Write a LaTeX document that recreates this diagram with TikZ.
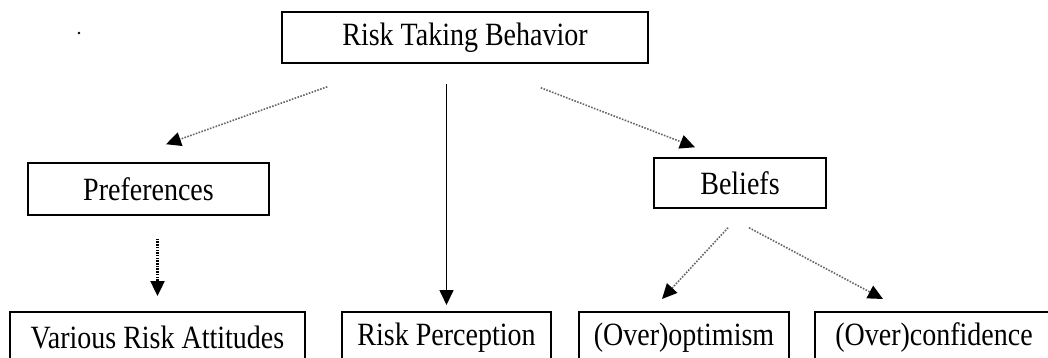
\documentclass[tikz,border=0pt]{standalone}
\usepackage{fontspec}
\setmainfont{Liberation Serif}
\usetikzlibrary{arrows.meta}
\newcommand\lbl[1]{\scalebox{1}[1.16]{#1}}

\begin{document}
\begin{tikzpicture}[x=1pt, y=1pt,
box/.style={draw, line width=1.5pt, inner sep=0pt, minimum height=51pt, font=\fontsize{28}{34}\selectfont},
tip/.style={-{Triangle[length=15pt,width=14pt,color=black]}},
dotline/.style={tip, color=black!60, line width=1.6pt, dash pattern=on 1.6pt off 1.4pt},
thickdot/.style={tip, line width=2.4pt, dash pattern=on 1.5pt off 1.2pt},
solidline/.style={tip, line width=1.6pt}]

\def\picwd{1048}
\def\picht{358}
\def\rowtop{311}	% top of the lower boxes

\useasboundingbox (0,0) rectangle (\picwd,-\picht);
\path[clip] (0,0) rectangle (\picwd,-\picht);

% stray mark
\fill (79,-33) circle (1.3pt);

\node[box, minimum width=366pt] (risk) at (465,-37.5) {\lbl{Risk Taking Behavior}};
\node[box, minimum width=241pt, minimum height=52pt] (pref) at (148.5,-189) {\lbl{Preferences}};
\node[box, minimum width=172pt, minimum height=50pt] (beliefs) at (740,-183) {\lbl{Beliefs}};

\node[box, anchor=north, minimum width=295pt] (attitudes) at (157.5,-\rowtop) {\lbl{Various Risk Attitudes}};
\node[box, anchor=north, minimum width=209pt] (percept) at (446.5,-\rowtop) {\lbl{Risk Perception}};
\node[box, anchor=north, minimum width=210pt] (optim) at (684,-\rowtop) {\lbl{(Over)optimism}};
\node[box, anchor=north, minimum width=238pt] (confid) at (934,-\rowtop) {\lbl{(Over)confidence}};

% top level
\draw[dotline] ([shift={(46,-23)}]risk.south west) -- ([shift={(17.5,18)}]pref.north);
\draw[solidline, shorten <=20pt, shorten >=6pt] (percept.north |- risk.south) -- (percept.north);
\draw[dotline] ([shift={(-108,-24)}]risk.south east) -- ([shift={(-45,10)}]beliefs.north);

% second level
\draw[thickdot, shorten <=23pt, shorten >=15pt] (attitudes.north |- pref.south) -- (attitudes.north);
\draw[dotline] ([shift={(-12,-19)}]beliefs.south) -- ([shift={(-22,12)}]optim.north);
\draw[dotline] ([shift={(9,-19)}]beliefs.south) -- ([shift={(-51,12)}]confid.north);

\end{tikzpicture}
\end{document}
